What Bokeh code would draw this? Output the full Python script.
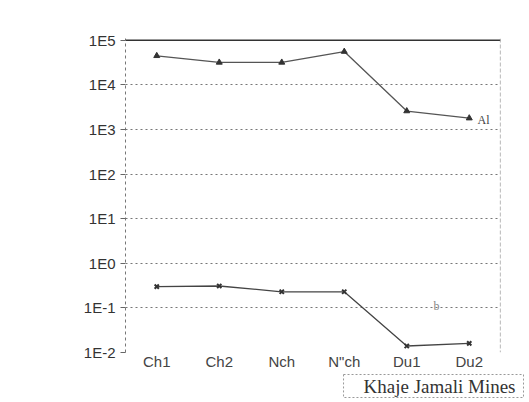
from bokeh.plotting import figure
from bokeh.models import FixedTicker, CustomJSTickFormatter, Label, Range1d, Span, Title
from bokeh.embed import file_html
from bokeh.resources import INLINE

categories = ["Ch1", "Ch2", "Nch", 'N"ch', "Du1", "Du2"]
al_values = [45000, 32000, 32000, 56000, 2600, 1800]
b_values = [0.30, 0.31, 0.23, 0.23, 0.014, 0.016]
y_ticks = [1e-2, 1e-1, 1e0, 1e1, 1e2, 1e3, 1e4, 1e5]

p = figure(width=529, height=402, x_range=categories, y_axis_type="log",
           y_range=Range1d(1e-2, 1.1e5), output_backend="svg", toolbar_location=None,
           min_border_left=125, min_border_right=29, min_border_top=38, min_border_bottom=50)
p.outline_line_color = None
p.background_fill_color = "white"
p.border_fill_color = "white"

p.yaxis.ticker = FixedTicker(ticks=y_ticks)
p.yaxis.formatter = CustomJSTickFormatter(code="return '1E' + Math.round(Math.log10(tick));")
p.yaxis.major_label_text_font = "Liberation Sans"
p.yaxis.major_label_text_font_size = "15px"
p.yaxis.major_label_text_color = "#333333"
p.yaxis.axis_line_color = "#777777"
p.yaxis.axis_line_dash = "3 3"
p.yaxis.major_tick_out = 5
p.yaxis.major_tick_in = 0
p.yaxis.major_tick_line_color = "#666666"
p.yaxis.minor_tick_line_color = None

p.xaxis.major_label_text_font = "Liberation Sans"
p.xaxis.major_label_text_font_size = "15px"
p.xaxis.major_label_text_color = "#444444"
p.xaxis.axis_line_color = None
p.xaxis.major_tick_line_color = None
p.xaxis.major_tick_out = 0
p.xaxis.major_label_standoff = 0

p.xgrid.grid_line_color = None
p.ygrid.grid_line_color = "#777777"
p.ygrid.grid_line_dash = "2 3"
p.ygrid.grid_line_width = 1

p.add_layout(Span(location=1e5, dimension="width", line_color="#333333", line_width=1.5))
p.add_layout(Span(location=len(categories), dimension="height", line_color="#888888",
                  line_dash="4 2", line_width=1.2))

p.line(categories, al_values, line_color="#555555", line_width=1.3)
p.scatter(categories, al_values, marker="triangle", size=6, color="#333333")
p.line(categories, b_values, line_color="#444444", line_width=1.3)
p.scatter(categories, b_values, marker="x", size=6, line_color="#333333", line_width=2)

p.add_layout(Label(x=352, y=226, x_units="screen", y_units="screen", text="Al",
                   text_font="Liberation Serif", text_font_size="12px", text_color="#444444"))
p.add_layout(Label(x=308, y=40, x_units="screen", y_units="screen", text="b",
                   text_font="Liberation Serif", text_font_size="12px", text_color="#888888"))

t = Title(text="Khaje Jamali Mines", align="right", text_font="Liberation Serif",
          text_font_size="19px", text_font_style="normal", text_color="#333333",
          border_line_color="#999999", border_line_dash="2 2",
          padding=dict(left=20, right=8, top=1, bottom=1), standoff=0, offset=-23)
p.add_layout(t, "below")

open("out.html", "w").write(file_html(p, INLINE))
